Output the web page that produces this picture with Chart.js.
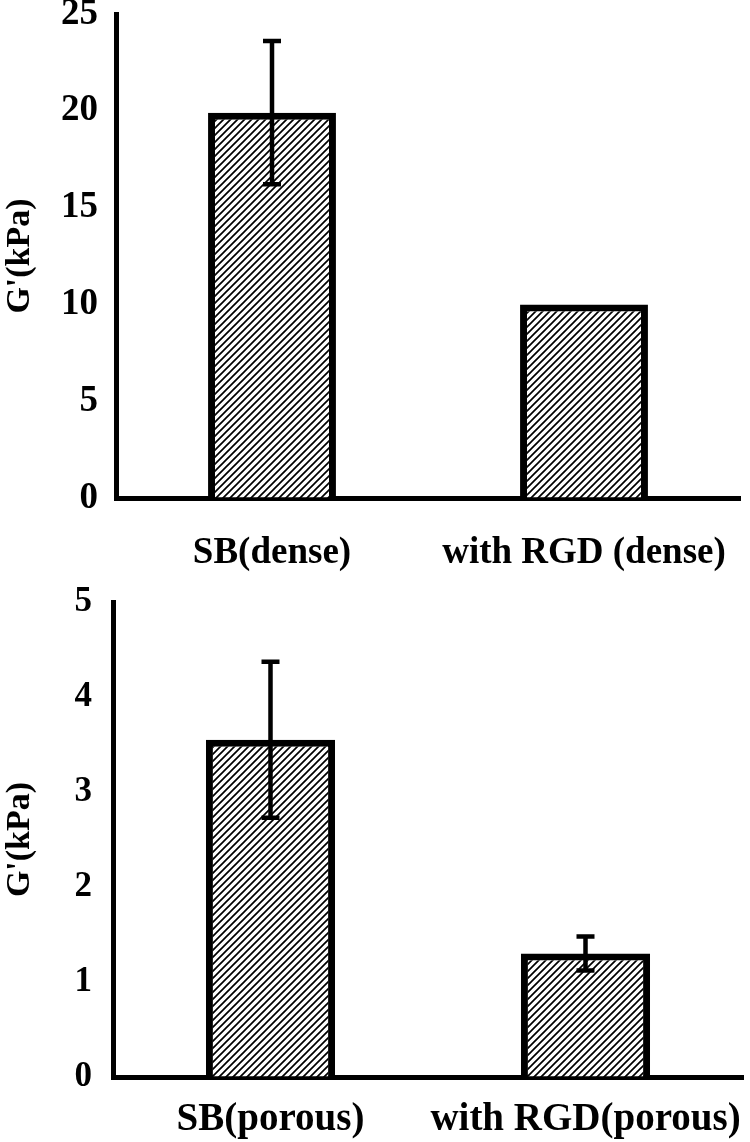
<!DOCTYPE html>
<html>
<head>
<meta charset="utf-8">
<script src="https://cdn.jsdelivr.net/npm/chart.js@4"></script>
<style>
    body { margin: 0; background: #fff; }
    .box { position: absolute; left: 0; width: 750px; }
</style>
</head>
<body>
<div class="box" style="top:0;height:575px"><canvas id="dense" width="750" height="575"></canvas></div>
<div class="box" style="top:575px;height:567px"><canvas id="porous" width="750" height="567"></canvas></div>
<script>
const denseLabels = ['SB(dense)', 'with RGD (dense)'];
const denseValues = [19.9, 10.0];
const denseErrors = [3.7, 0];
const denseMax = 25;
const denseStep = 5;

const porousLabels = ['SB(porous)', 'with RGD(porous)'];
const porousValues = [3.55, 1.3];
const porousErrors = [0.82, 0.18];
const porousMax = 5;
const porousStep = 1;

const axisTitle = "G'(kPa)";
const serif = "'Liberation Serif', 'Times New Roman', serif";

// diagonal hatch fill like the excel pattern
function hatch() {
    const c = document.createElement('canvas');
    c.width = 7;
    c.height = 7;
    const p = c.getContext('2d');
    p.fillStyle = '#fff';
    p.fillRect(0, 0, 7, 7);
    p.strokeStyle = '#000';
    p.lineWidth = 1.7;
    p.beginPath();
    p.moveTo(-1, 8); p.lineTo(8, -1);
    p.moveTo(-1, 1); p.lineTo(1, -1);
    p.moveTo(6, 8); p.lineTo(8, 6);
    p.stroke();
    return p.createPattern(c, 'repeat');
}

const errorBars = {
    id: 'errorBars',
    afterDatasetsDraw(chart) {
        const ctx = chart.ctx;
        const y = chart.scales.y;
        chart.data.datasets.forEach(function(ds, di) {
            const meta = chart.getDatasetMeta(di);
            meta.data.forEach(function(bar, i) {
                const err = ds.errors[i];
                if (!err) return;
                const top = y.getPixelForValue(ds.data[i] + err);
                const bot = y.getPixelForValue(ds.data[i] - err);
                ctx.save();
                ctx.strokeStyle = '#000';
                ctx.lineWidth = 4.5;
                ctx.beginPath();
                ctx.moveTo(bar.x, top);
                ctx.lineTo(bar.x, bot);
                ctx.moveTo(bar.x - 9, top);
                ctx.lineTo(bar.x + 9, top);
                ctx.moveTo(bar.x - 9, bot);
                ctx.lineTo(bar.x + 9, bot);
                ctx.stroke();
                ctx.restore();
            });
        });
    }
};

function makeChart(id, labels, values, errors, max, step, cfg) {
    const ctx = document.getElementById(id).getContext('2d');
    return new Chart(ctx, {
        type: 'bar',
        data: {
            labels: labels,
            datasets: [
                {
                    data: values,
                    errors: errors,
                    backgroundColor: hatch(),
                    borderColor: '#000',
                    borderWidth: 7,
                    barPercentage: 1,
                    categoryPercentage: 0.41
                }
            ]
        },
        options: {
            responsive: false,
            animation: false,
            layout: {
                padding: { top: cfg.top, right: cfg.right, left: 0, bottom: 0 }
            },
            plugins: {
                legend: { display: false },
                tooltip: { enabled: false }
            },
            scales: {
                x: {
                    grid: { drawOnChartArea: false, drawTicks: false },
                    border: { color: '#000', width: 5 },
                    ticks: {
                        color: '#000',
                        padding: cfg.xPad,
                        maxRotation: 0,
                        autoSkip: false,
                        font: { family: serif, size: cfg.xFont, weight: 'bold' }
                    },
                    afterFit: function(scale) {
                        scale.height = cfg.xHeight;
                        scale.paddingLeft = 0;
                        scale.paddingRight = 0;
                    }
                },
                y: {
                    min: 0,
                    max: max,
                    grid: { drawOnChartArea: false, drawTicks: false },
                    border: { color: '#000', width: 5 },
                    ticks: {
                        stepSize: step,
                        color: '#000',
                        padding: cfg.yPad,
                        font: { family: serif, size: cfg.yFont, weight: 'bold' }
                    },
                    title: {
                        display: true,
                        text: axisTitle,
                        color: '#000',
                        padding: 0,
                        font: { family: serif, size: 34, weight: 'bold' }
                    },
                    afterFit: function(scale) {
                        scale.width = cfg.yWidth;
                        scale.paddingTop = 0;
                        scale.paddingBottom = 0;
                    }
                }
            }
        },
        plugins: [errorBars]
    });
}

window.onload = function() {
    makeChart('dense', denseLabels, denseValues, denseErrors, denseMax, denseStep,
        { top: 14, right: 10, yWidth: 116, xHeight: 77, xPad: 33, xFont: 37, yFont: 37, yPad: 18 });
    makeChart('porous', porousLabels, porousValues, porousErrors, porousMax, porousStep,
        { top: 27, right: 7, yWidth: 113, xHeight: 65, xPad: 20, xFont: 39, yFont: 35, yPad: 21 });
};
</script>
</body>
</html>
